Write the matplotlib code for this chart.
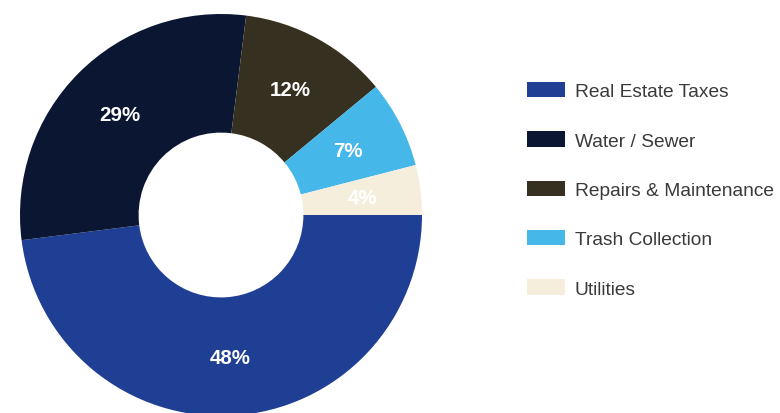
import matplotlib
matplotlib.use("Agg")
import matplotlib.pyplot as plt
from matplotlib.patches import Patch

plt.rcParams["font.family"] = ["Liberation Sans", "DejaVu Sans"]

categories = ["Real Estate Taxes", "Water / Sewer", "Repairs & Maintenance",
              "Trash Collection", "Utilities"]
shares = [48, 29, 12, 7, 4]
colors = ["#1F3F94", "#0B1633", "#35301F", "#45B8E9", "#F5EEDD"]

fig = plt.figure(figsize=(7.8, 4.14), dpi=100)

# donut: centre ~ (221, 216) px, outer radius ~ 201 px
W, H = 780, 414
cx, cy, r = 221, 216, 201
ax = fig.add_axes([(cx - r) / W, (H - cy - r) / H, 2 * r / W, 2 * r / H])
ax.pie(shares, colors=colors, startangle=0, counterclock=False, radius=1,
       wedgeprops=dict(width=0.59, edgecolor="none"),
       autopct="%d%%", pctdistance=0.71,
       textprops=dict(color="white", fontsize=14.8, fontweight="bold"))
ax.set_xlim(-1, 1)
ax.set_ylim(-1, 1)
ax.set_aspect("equal")
ax.axis("off")

handles = [Patch(facecolor=c, edgecolor="none") for c in colors]
fig.legend(handles, categories, loc="upper left",
           bbox_to_anchor=(527 / W, 1 - 83 / H), frameon=False,
           fontsize=13.8, handlelength=2.0, handleheight=0.85,
           handletextpad=0.5, labelspacing=1.62, borderpad=0,
           borderaxespad=0, labelcolor="#3a3a3a")

plt.savefig("out.png", dpi=100)
